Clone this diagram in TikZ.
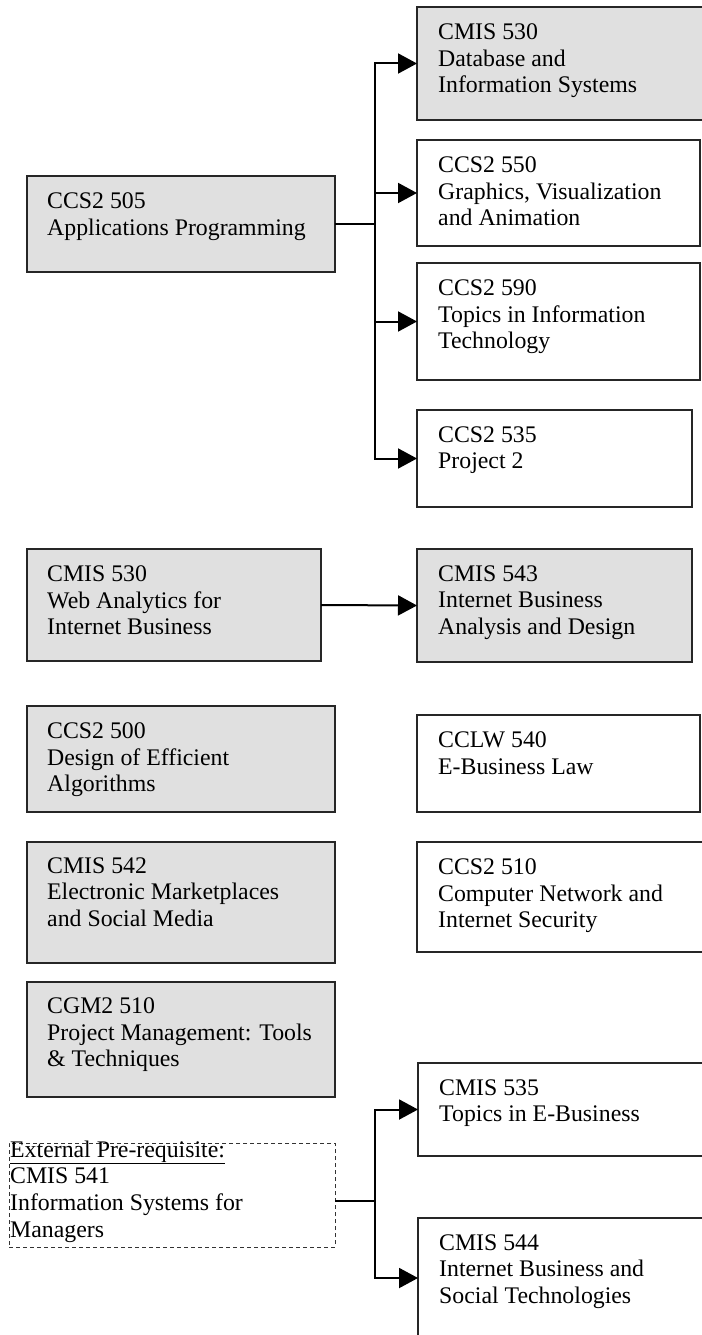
\documentclass[tikz,border=0pt]{standalone}
\usepackage{fontspec}
\setmainfont{Liberation Serif}
\usetikzlibrary{arrows.meta}
\definecolor{boxgray}{RGB}{224,224,224}
\tikzset{
  box/.style={draw=black!85, line width=1.3pt, rectangle, inner sep=0pt, outer sep=0pt, anchor=north west},
  graybox/.style={box, fill=boxgray},
  whitebox/.style={box, fill=white},
  dashbox/.style={box, draw=black!80, line width=1pt, dash pattern=on 4pt off 3pt},
  txt/.style={anchor=north west, align=left, inner sep=0pt, yshift=15.7pt,
    font=\fontsize{23.8}{26.7}\selectfont, execute at begin node=\strut},
  conn/.style={line width=2pt, black},
  arr/.style={conn, -{Triangle[length=19pt,width=20pt]}}
}
\begin{document}
\begin{tikzpicture}[x=1pt,y=-1pt]
\fill[white] (0,0) rectangle (701,1335);
\useasboundingbox (0,0) rectangle (701,1335);

% left column
\node[graybox, minimum width=308pt, minimum height=96pt] (A) at (27,176) {};
\node[txt] (At) at (47,208) {CCS2 505\\Applications Programming};

\node[graybox, minimum width=294pt, minimum height=112pt] (B) at (27,549) {};
\node[txt] (Bt) at (47,581) {CMIS 530\\Web Analytics for\\Internet Business};

\node[graybox, minimum width=308pt, minimum height=106pt] (C) at (27,706) {};
\node[txt] (Ct) at (47,738) {CCS2 500\\Design of Efficient\\Algorithms};

\node[graybox, minimum width=308pt, minimum height=121pt] (D) at (27,842) {};
\node[txt] (Dt) at (47,873) {CMIS 542\\Electronic Marketplaces\\and Social Media};

\node[graybox, minimum width=308pt, minimum height=115pt] (E) at (27,982) {};
\node[txt] (Et) at (47,1013) {CGM2 510\\Project Management: Tools\\\& Techniques};

\node[dashbox, minimum width=326pt, minimum height=104pt] (F) at (9,1143) {};
\node[txt] (Ft) at (10,1156) {\underline{External Pre-requisite:}\\CMIS 541\\Information Systems for\\Managers};

% right column
\node[graybox, minimum width=320pt, minimum height=113pt] (G) at (417,7) {};
\node[txt] (Gt) at (438,39) {CMIS 530\\Database and\\Information Systems};

\node[whitebox, minimum width=283pt, minimum height=106pt] (H) at (417,140) {};
\node[txt] (Ht) at (438,172) {CCS2 550\\Graphics, Visualization\\and Animation};

\node[whitebox, minimum width=283pt, minimum height=117pt] (I) at (417,263) {};
\node[txt] (It) at (438,295) {CCS2 590\\Topics in Information\\Technology};

\node[whitebox, minimum width=275pt, minimum height=97pt] (J) at (417,410) {};
\node[txt] (Jt) at (438,442) {CCS2 535\\Project 2};

\node[graybox, minimum width=275pt, minimum height=113pt] (K) at (417,549) {};
\node[txt] (Kt) at (438,581) {CMIS 543\\Internet Business\\Analysis and Design};

\node[whitebox, minimum width=283pt, minimum height=97pt] (L) at (417,715) {};
\node[txt] (Lt) at (438,747) {CCLW 540\\E-Business Law};

\node[whitebox, minimum width=320pt, minimum height=110pt] (M) at (417,842) {};
\node[txt] (Mt) at (438,874) {CCS2 510\\Computer Network and\\Internet Security};

\node[whitebox, minimum width=320pt, minimum height=93pt] (N) at (418,1063) {};
\node[txt] (Nt) at (439,1095) {CMIS 535\\Topics in E-Business};

\node[whitebox, minimum width=320pt, minimum height=120pt] (O) at (418,1218) {};
\node[txt] (Ot) at (439,1250) {CMIS 544\\Internet Business and\\Social Technologies};

% connectors
\coordinate (j1) at (375,224);
\draw[conn] (A.east) -- (j1);
\draw[arr] (j1) |- (G.west);
\draw[arr] (j1) |- (H.west);
\draw[arr] (j1) |- (I.west);
\draw[arr] (j1) |- (J.west);

\draw[arr] (B.east) -- (K.west);

\coordinate (j2) at (375,1201);
\draw[conn] (j2 -| F.east) -- (j2);
\draw[arr] (j2) |- (N.west);
\draw[arr] (j2) |- (O.west);
\end{tikzpicture}
\end{document}
